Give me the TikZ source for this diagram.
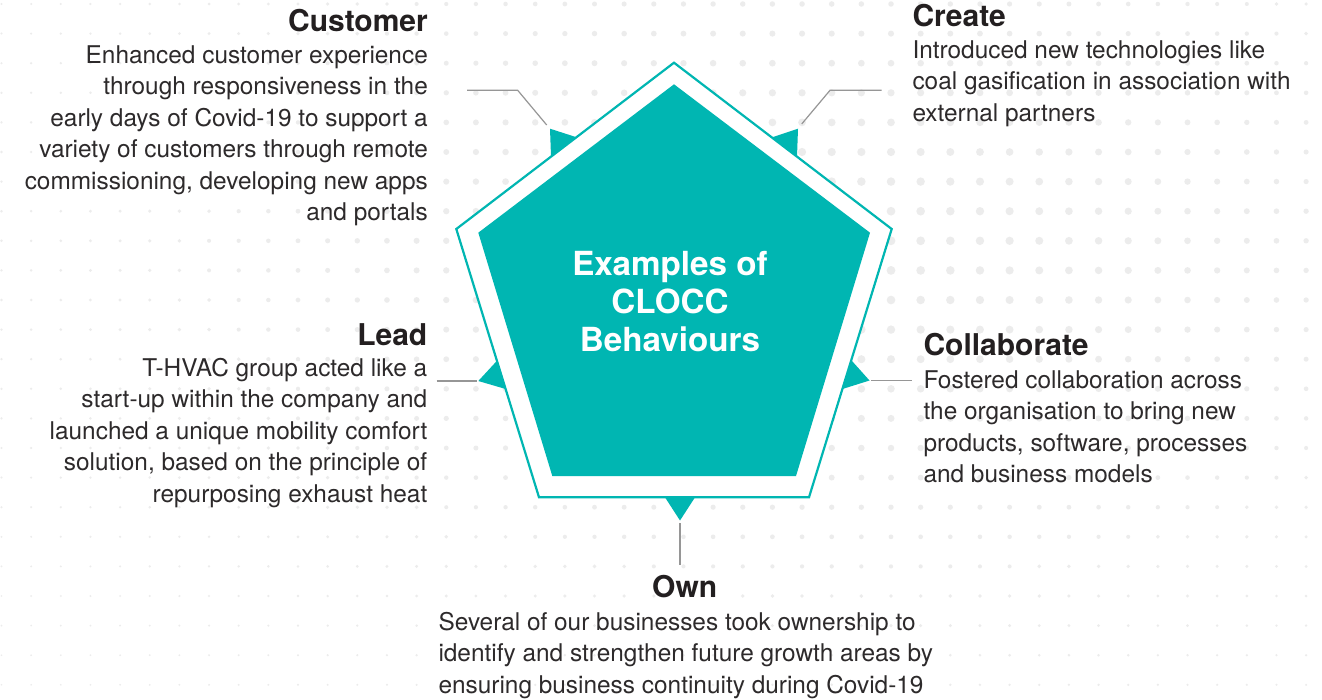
\documentclass[tikz,border=0pt]{standalone}
\usepackage{fontspec}
\setmainfont{TeX Gyre Heros}
\usetikzlibrary{calc}
\definecolor{teal1}{RGB}{0,182,178}
\definecolor{dotc}{RGB}{236,236,236}
\definecolor{txt}{RGB}{35,31,32}
\definecolor{bodyc}{RGB}{45,42,43}
\definecolor{lnc}{RGB}{150,150,150}
\tikzset{
  head/.style={inner sep=0pt, font=\fontsize{30}{36}\selectfont\bfseries, text=txt},
  body/.style={inner sep=0pt, text=bodyc},
  conn/.style={draw=lnc, line width=1.2pt},
  pointer/.style={fill=teal1},
  title/.style={inner sep=0pt, text=white},
}
\newcommand{\bodyRt}[2]{\parbox[t]{#1}{\raggedleft\fontsize{24.4}{31.5}\selectfont #2}}
\newcommand{\bodyLt}[2]{\parbox[t]{#1}{\raggedright\fontsize{24.4}{31.5}\selectfont #2}}
\begin{document}
\begin{tikzpicture}[x=1pt,y=-1pt]
\useasboundingbox (0,0) rectangle (1322,699);
\fill[white] (0,0) rectangle (1322,699);
% dot grid
\foreach \j in {0,...,44}{
  \foreach \k in {0,...,23}{
    \pgfmathsetmacro\dx{1.5+29.65*\j}
    \pgfmathsetmacro\dy{4+29.6*\k}
    \pgfmathsetmacro\du{(\dx-830)/580}
    \pgfmathsetmacro\dv{(\dy-250)/310}
    \pgfmathsetmacro\dw{veclen(\du,\dv)}
    \pgfmathsetmacro\dr{0.85+3.6*exp(-(\dw*\dw))}
    \fill[dotc] (\dx,\dy) circle[radius=\dr pt];
  }
}
% pointer triangles
\coordinate (cuA) at (550,128.7); \coordinate (cuB1) at (551,156.7); \coordinate (cuB2) at (576.7,137.3);
\coordinate (crA) at (798,128.7); \coordinate (crB1) at (772.3,137.3); \coordinate (crB2) at (797,156.7);
\coordinate (leA) at (478.3,381); \coordinate (leB1) at (498.3,359.3); \coordinate (leB2) at (506.7,389.3);
\coordinate (coA) at (869.5,380.5); \coordinate (coB1) at (850.5,359.3); \coordinate (coB2) at (841.5,389.3);
\coordinate (owA) at (680,520.5); \coordinate (owB1) at (665,497.3); \coordinate (owB2) at (695,497.3);
\foreach \p in {cu,cr,le,co,ow}{
  \fill[pointer] (\p A) -- ($(\p A)!1.45!(\p B1)$) -- ($(\p A)!1.45!(\p B2)$) -- cycle;
}
% pentagon
\coordinate (oT) at (674,62.7); \coordinate (oR) at (891.7,229); \coordinate (oBR) at (809,497.3);
\coordinate (oBL) at (539,497.3); \coordinate (oL) at (456.3,229);
\draw[draw=teal1, line width=2.2pt, fill=white, line join=miter] (oT) -- (oR) -- (oBR) -- (oBL) -- (oL) -- cycle;
\coordinate (iT) at (674,84.3); \coordinate (iR) at (870,232.7); \coordinate (iBR) at (796,476);
\coordinate (iBL) at (552.3,476); \coordinate (iL) at (478.3,232.7);
\fill[teal1] (iT) -- (iR) -- (iBR) -- (iBL) -- (iL) -- cycle;
% title
\node[title, anchor=base] (ttl) at (670,275.5) {\parbox[t]{300pt}{\centering\fontsize{33.2}{37.8}\selectfont\bfseries Examples of\\CLOCC\\Behaviours}};
% connectors
\coordinate (cuL1) at (467,90.3); \coordinate (cuL2) at (517.7,90.3); \coordinate (cuL3) at (546.7,125);
\draw[conn] (cuL1) -- (cuL2) -- (cuL3);
\coordinate (crL1) at (881.7,90.3); \coordinate (crL2) at (830,90.3); \coordinate (crL3) at (801.7,124);
\draw[conn] (crL1) -- (crL2) -- (crL3);
\coordinate (leL1) at (436.7,381); \coordinate (leL2) at (476.5,381);
\draw[conn] (leL1) -- (leL2);
\coordinate (coL1) at (871,380.5); \coordinate (coL2) at (911.7,380.5);
\draw[conn] (coL1) -- (coL2);
\coordinate (owL1) at (680,523); \coordinate (owL2) at (680,564.5);
\draw[conn] (owL1) -- (owL2);
% texts
\node[head, anchor=base east] (cuH) at (428,31.5) {Customer};
\node[body, anchor=base east] (cuT) at (428,63.3) {\bodyRt{420pt}{Enhanced customer experience\\through responsiveness in the\\early days of Covid-19 to support a\\variety of customers through remote\\commissioning, developing new apps\\and portals}};
\node[head, anchor=base west] (crH) at (912.3,26) {Create};
\node[body, anchor=base west] (crT) at (912.3,58) {\bodyLt{405pt}{Introduced new technologies like\\coal gasification in association with\\external partners}};
\node[head, anchor=base east] (leH) at (427.5,345) {Lead};
\node[body, anchor=base east] (leT) at (427.5,376) {\bodyRt{420pt}{T-HVAC group acted like a\\start-up within the company and\\launched a unique mobility comfort\\solution, based on the principle of\\repurposing exhaust heat}};
\node[head, anchor=base west] (coH) at (923.3,355.5) {Collaborate};
\node[body, anchor=base west] (coT) at (923.3,388) {\bodyLt{395pt}{Fostered collaboration across\\the organisation to bring new\\products, software, processes\\and business models}};
\node[head, anchor=base] (owH) at (684.7,597) {Own};
\node[body, anchor=base west] (owT) at (438.3,630) {\bodyLt{540pt}{Several of our businesses took ownership to\\identify and strengthen future growth areas by\\ensuring business continuity during Covid-19}};
\end{tikzpicture}
\end{document}
